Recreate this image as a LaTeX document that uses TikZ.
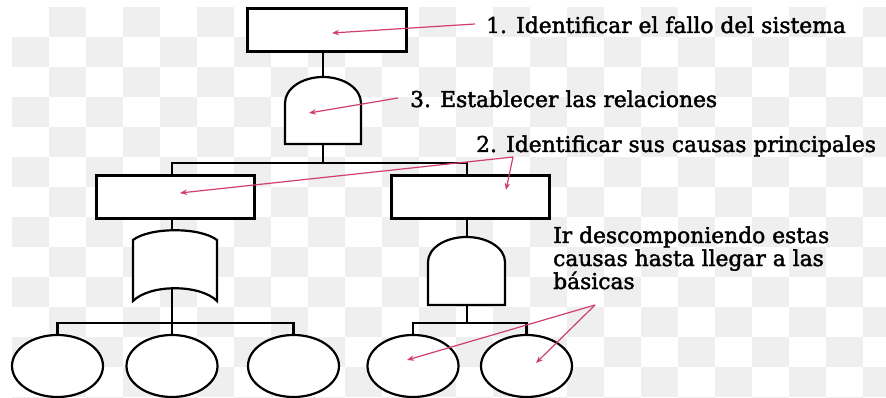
\documentclass[tikz,border=0pt]{standalone}
\usepackage{fontspec}
\setmainfont{DejaVu Serif}
\newfontfamily\notefont[BoldFont={DejaVu Serif},BoldFeatures={FakeBold=1.8}]{DejaVu Serif}
\usetikzlibrary{shapes.geometric,arrows.meta}
\definecolor{pinkarrow}{RGB}{208,62,112}
\definecolor{tile}{RGB}{239,239,239}
\tikzset{
  blk/.style={draw=black,line width=2.2pt,fill=white},
  conn/.style={draw=black,line width=2.2pt},
  boxnode/.style={blk,rectangle,inner sep=0pt,minimum width=#1,minimum height=43pt},
  basic/.style={blk,ellipse,inner sep=0pt,minimum width=91pt,minimum height=62pt},
  note/.style={inner sep=0pt,anchor=base west,font=\notefont\bfseries\fontsize{21.8}{23.5}\selectfont},
  parr/.style={draw=pinkarrow,line width=1.2pt,-{Stealth[length=7pt,width=5.5pt]}},
}
\begin{document}
\begin{tikzpicture}[x=1pt,y=-1pt]
\useasboundingbox (0,0) rectangle (886,398);
% checkerboard background
\begin{scope}
\clip (12,7) rectangle (886,398);
\foreach \i in {0,...,23}{
  \foreach \j in {0,...,13}{
    \pgfmathtruncatemacro{\odd}{mod(\i+\j,2)}
    \ifnum\odd=1
      \fill[tile] (12+37*\i,7+30*\j) rectangle ++(37,30);
    \fi
  }
}
\end{scope}
% boxes
\node[boxnode=159pt] (top) at (327,30) {};
\node[boxnode=158pt] (lbox) at (175.5,197) {};
\node[boxnode=158pt] (rbox) at (470.5,197) {};
% AND gate top
\coordinate (g1in) at (323,77);
\coordinate (g1out) at (323,144);
\draw[blk] (285,144) -- (285,103) arc[start angle=180,end angle=360,x radius=38,y radius=26] -- (361,144) -- cycle;
% OR gate left
\coordinate (g2in) at (172,230);
\coordinate (g2out) at (172,288);
\draw[blk] (133,301) -- (133,240) .. controls (150,227) and (200,227) .. (217,240) -- (217,301) .. controls (200,284) and (150,284) .. cycle;
% AND gate right
\coordinate (g3in) at (467,237);
\coordinate (g3out) at (467,305);
\draw[blk] (428,305) -- (428,262) arc[start angle=180,end angle=360,x radius=38.5,y radius=25] -- (505,305) -- cycle;
% basic events
\node[basic] (e1) at (57.5,366) {};
\node[basic] (e2) at (172,366) {};
\node[basic] (e3) at (293.5,366) {};
\node[basic] (e4) at (413,366) {};
\node[basic] (e5) at (526.5,366) {};
% connectors
\draw[conn] (top.south -| g1in) -- (g1in);
\coordinate (bar1) at (323,163);
\draw[conn] (g1out) -- (bar1);
\draw[conn] (lbox.north -| g2in) |- (bar1) -| (rbox.north -| g3in);
\draw[conn] (lbox.south -| g2in) -- (g2in);
\draw[conn] (rbox.south -| g3in) -- (g3in);
\coordinate (bar2) at (172,323);
\draw[conn] (g2out) -- (bar2);
\draw[conn] (e1.north) |- (bar2) -| (e3.north);
\draw[conn] (bar2) -- (e2.north);
\coordinate (bar3) at (467,323);
\draw[conn] (g3out) -- (bar3);
\draw[conn] (e4.north) |- (bar3) -| (e5.north);
% labels
\node[note] (t1) at (486,33) {1. Identificar el fallo del sistema};
\node[note] (t3) at (410,107) {3. Establecer las relaciones};
\node[note] (t2) at (476,152) {2. Identificar sus causas principales};
\node[note] (t4a) at (553,243) {Ir descomponiendo estas};
\node[note] (t4b) at (553,266) {causas hasta llegar a las};
\node[note] (t4c) at (553,289) {básicas};
% pink arrows
\coordinate (a1s) at (475,24);
\coordinate (a1e) at (332,33);
\draw[parr] (a1s) -- (a1e);
\coordinate (a3s) at (398,98);
\coordinate (a3e) at (309,113);
\draw[parr] (a3s) -- (a3e);
\coordinate (a2s) at (513,157);
\coordinate (a2e) at (180,193);
\coordinate (a2f) at (506,190);
\draw[parr] (a2s) -- (a2e);
\draw[parr] (a2s) -- (a2f);
\coordinate (a4s) at (595,305);
\coordinate (a4e) at (536,363);
\coordinate (a4f) at (407,360);
\draw[parr] (a4s) -- (a4e);
\draw[parr] (a4s) -- (a4f);
\end{tikzpicture}
\end{document}
